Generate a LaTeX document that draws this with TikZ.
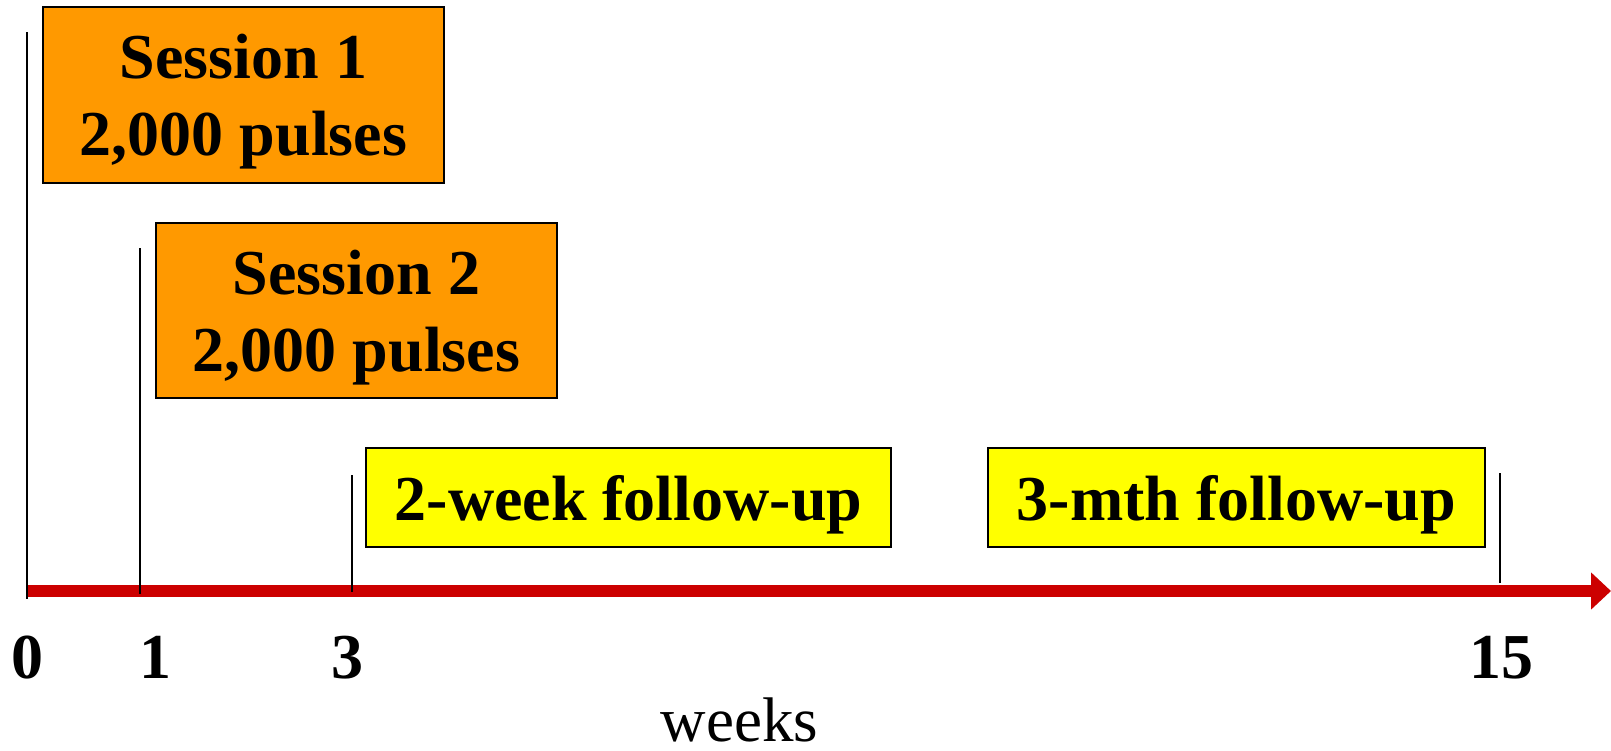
\documentclass[tikz,border=0pt]{standalone}
\usepackage{fontspec}
\setmainfont{Liberation Serif}
\usetikzlibrary{arrows.meta}

\definecolor{sessionorange}{HTML}{FF9900}
\definecolor{followyellow}{HTML}{FFFF00}
\definecolor{axisred}{HTML}{CC0000}

\tikzset{
  phasebox/.style={draw=black, line width=1.6pt, inner sep=0pt},
  sessionbox/.style={phasebox, fill=sessionorange},
  followbox/.style={phasebox, fill=followyellow},
  boxtext/.style={inner sep=0pt, align=center, yshift=-7pt,
    font=\fontsize{64}{77}\selectfont\bfseries},
  marker/.style={draw=black, line width=2pt},
  weeklabel/.style={anchor=base, inner sep=0pt, font=\fontsize{64}{77}\selectfont\bfseries},
}

\begin{document}
\begin{tikzpicture}[x=1pt, y=-1pt]
  \useasboundingbox (0,0) rectangle (1611,750);

  % session and follow-up boxes
  \node[sessionbox, minimum width=401pt, minimum height=176pt] (s1) at (243.5,95) {};
  \node[boxtext] (s1text) at (s1.center) {Session 1\\2,000 pulses};
  \node[sessionbox, minimum width=401pt, minimum height=175pt] (s2) at (356.5,310.5) {};
  \node[boxtext] (s2text) at (s2.center) {Session 2\\2,000 pulses};
  \node[followbox, minimum width=525pt, minimum height=99pt] (f2) at (628.5,497.5) {};
  \node[boxtext] (f2text) at (f2.center) {2-week follow-up};
  \node[followbox, minimum width=497pt, minimum height=99pt] (f3) at (1236.5,497.5) {};
  \node[boxtext] (f3text) at (f3.center) {3-mth follow-up};

  % time axis
  \coordinate (axstart) at (27,591);
  \coordinate (axend) at (1611,591);
  \draw[axisred, line width=12pt, -{Triangle[length=20pt,width=36pt]}] (axstart) -- (axend);

  % event markers
  \coordinate (m0top) at (27,32);   \coordinate (m0bot) at (27,599);
  \coordinate (m1top) at (140,248); \coordinate (m1bot) at (140,594);
  \coordinate (m3top) at (352,475); \coordinate (m3bot) at (352,592);
  \coordinate (m15top) at (1500,473); \coordinate (m15bot) at (1500,583);
  \draw[marker] (m0top) -- (m0bot);
  \draw[marker] (m1top) -- (m1bot);
  \draw[marker] (m3top) -- (m3bot);
  \draw[marker] (m15top) -- (m15bot);

  % week numbers
  \node[weeklabel] (w0) at (28,678) {0};
  \node[weeklabel] (w1) at (155,678) {1};
  \node[weeklabel] (w3) at (347,678) {3};
  \node[weeklabel] (w15) at (1501,678) {15};
  \node[anchor=base, inner sep=0pt, font=\fontsize{63}{70}\selectfont] (wk) at (739.5,741) {weeks};
\end{tikzpicture}
\end{document}
